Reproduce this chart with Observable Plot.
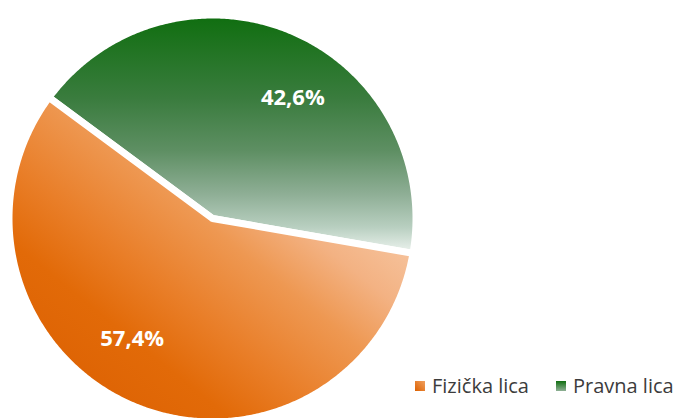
<!DOCTYPE html>
<html>
<head>
<meta charset="utf-8">
<script src="https://cdn.jsdelivr.net/npm/d3@7"></script>
<script src="https://cdn.jsdelivr.net/npm/@observablehq/plot@0.6"></script>
<style>
  html, body { margin: 0; padding: 0; background: #fff; }
  #wrap { position: relative; width: 676px; height: 418px; overflow: hidden; }
  #legend { position: absolute; left: 415px; top: 372px; display: flex; align-items: flex-start;
            font-family: "Open Sans", sans-serif; font-size: 20px; color: #3c3c3c; white-space: nowrap; }
  #legend .item { display: flex; align-items: flex-start; margin-right: 27px; }
  #legend .sw { width: 10px; height: 10px; margin-top: 9px; margin-right: 7px; }
</style>
</head>
<body>
<div id="wrap"></div>
<script>
// ---- data ----
const categories = ["Pravna lica", "Fizička lica"];
const shares = [42.6, 57.4];
const valueLabels = ["42,6%", "57,4%"];
const legendOrder = ["Fizička lica", "Pravna lica"];

// ---- styling ----
const fills = { "Pravna lica": "url(#gGreen)", "Fizička lica": "url(#gOrange)" };
const swatches = {
  "Fizička lica": "linear-gradient(45deg, #dc6000, #f0a060)",
  "Pravna lica": "linear-gradient(180deg, #116f11, #8fb095)"
};
const startDeg = -53.5;
const R = 203.5;          // pixel size of the unit radius
const cx = 212, cy = 218; // pixel centre
const W = 676, H = 418;
const labelRadius = 0.71, labelRotDeg = 10.6;

const pie = d3.pie().sort(null)
  .startAngle(startDeg * Math.PI / 180)
  .endAngle(startDeg * Math.PI / 180 + 2 * Math.PI);
const arcs = pie(shares).map((a, i) => ({...a, cat: categories[i], label: valueLabels[i]}));

// polygon outline of each slice (centre -> arc -> centre)
function outline(a) {
  const pts = [{x: 0, y: 0}];
  const n = Math.max(2, Math.ceil((a.endAngle - a.startAngle) / (Math.PI / 360)));
  for (let k = 0; k <= n; k++) {
    const t = a.startAngle + (a.endAngle - a.startAngle) * k / n;
    pts.push({x: Math.sin(t), y: Math.cos(t)});
  }
  pts.push({x: 0, y: 0});
  pts.push(pts[1]);
  return pts;
}

function defs() {
  const d = d3.create("svg:defs");
  const g = d.append("linearGradient").attr("id", "gGreen")
    .attr("x1", 0).attr("y1", 0).attr("x2", 0).attr("y2", 1);
  [[0, "#0f6e0f"], [0.35, "#3a7c3e"], [0.57, "#5e8f63"], [0.75, "#8eae95"], [0.89, "#b8cfc0"], [1, "#eef4f0"]]
    .forEach(([o, c]) => g.append("stop").attr("offset", o).attr("stop-color", c));
  const o = d.append("linearGradient").attr("id", "gOrange")
    .attr("x1", 0).attr("y1", 1).attr("x2", 1).attr("y2", 0);
  [[0, "#d95c00"], [0.28, "#e26a08"], [0.4, "#e97e28"], [0.55, "#ee9852"], [0.66, "#f3b283"], [0.8, "#f7c8a4"], [1, "#fbe0ca"]]
    .forEach(([off, c]) => o.append("stop").attr("offset", off).attr("stop-color", c));
  return d.node();
}

const rot = labelRotDeg * Math.PI / 180;
const mid = a => (a.startAngle + a.endAngle) / 2 + rot;

const chart = Plot.plot({
  width: W, height: H, margin: 0,
  style: {background: "#fff"},
  x: {domain: [-cx / R, (W - cx) / R], axis: null},
  y: {domain: [-(H - cy) / R, cy / R], axis: null},
  marks: [
    defs,
    ...arcs.map(a => Plot.line(outline(a), {
      x: "x", y: "y", fill: fills[a.cat], stroke: "white", strokeWidth: 7,
      strokeLinejoin: "miter", strokeMiterlimit: 10, curve: "linear"
    })),
    Plot.text(arcs, {
      x: a => labelRadius * Math.sin(mid(a)),
      y: a => labelRadius * Math.cos(mid(a)),
      text: "label", fill: "white", fontSize: 22, fontWeight: "bold",
      fontFamily: "Open Sans", textAnchor: "middle"
    })
  ]
});

const wrap = document.getElementById("wrap");
wrap.appendChild(chart);
const lg = document.createElement("div");
lg.id = "legend";
legendOrder.forEach(name => {
  const it = document.createElement("div");
  it.className = "item";
  const sw = document.createElement("div");
  sw.className = "sw";
  sw.style.background = swatches[name];
  const tx = document.createElement("span");
  tx.textContent = name;
  it.appendChild(sw); it.appendChild(tx);
  lg.appendChild(it);
});
wrap.appendChild(lg);
</script>
</body>
</html>
